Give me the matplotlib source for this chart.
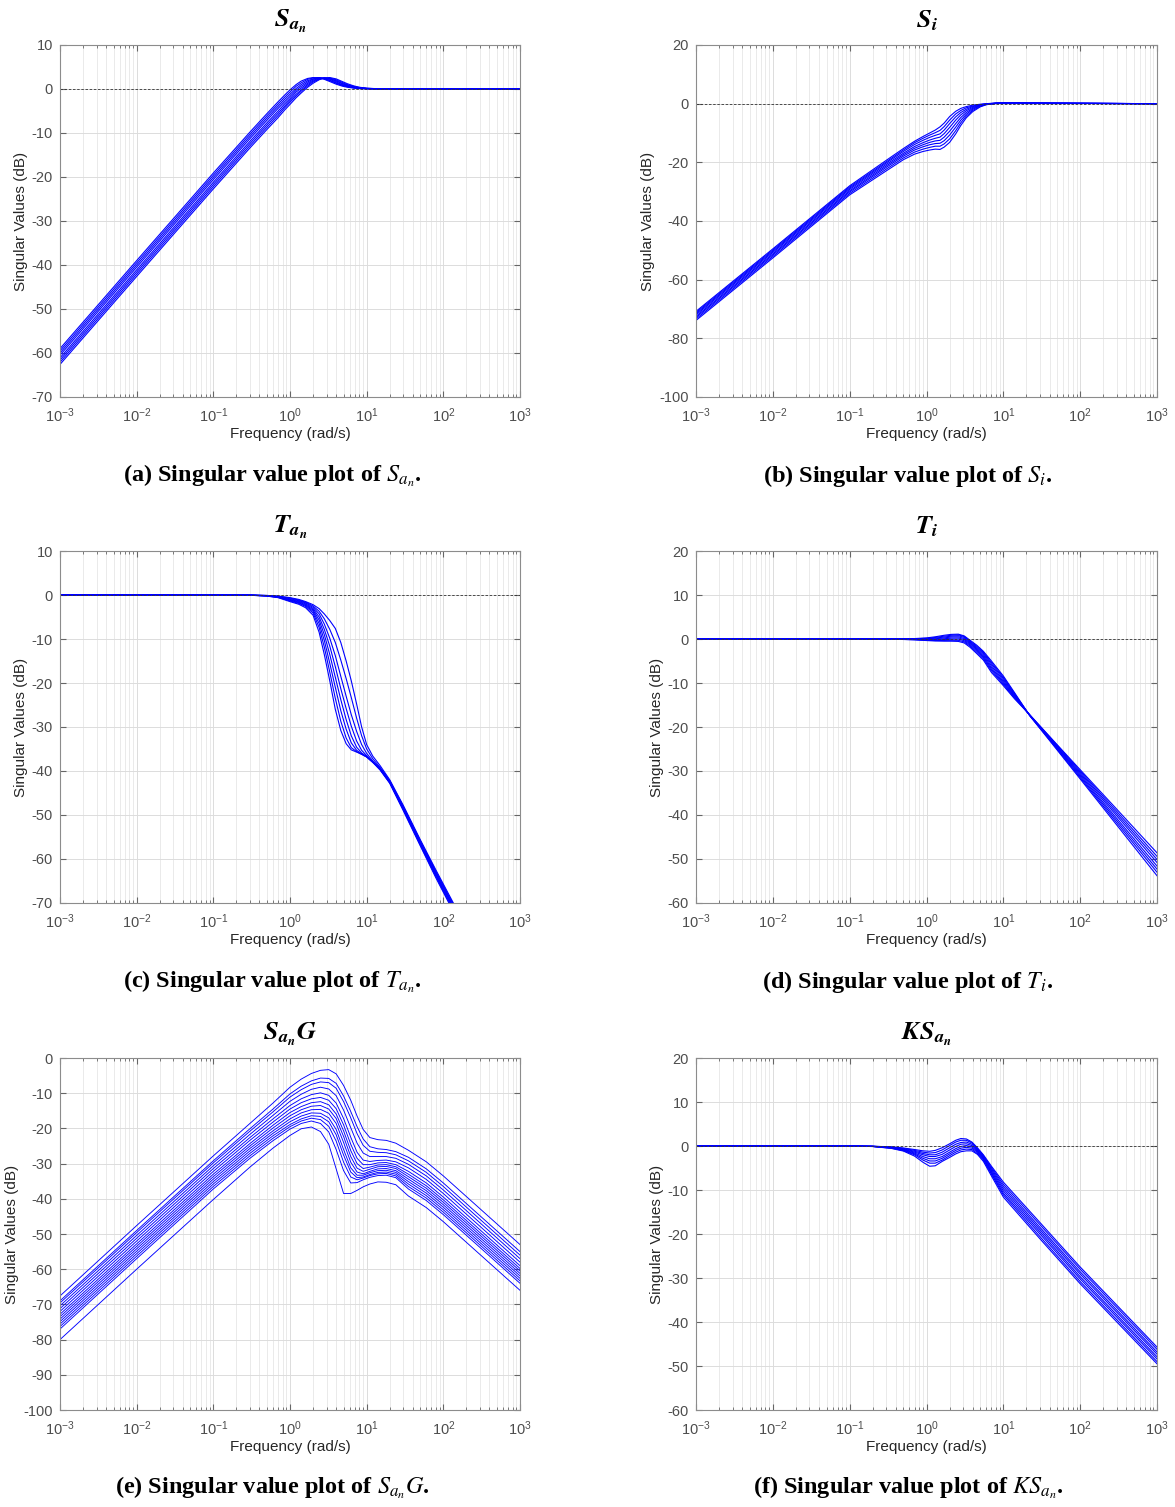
import numpy as np
import matplotlib.pyplot as plt
from matplotlib.ticker import FixedLocator, FuncFormatter, NullFormatter, MultipleLocator

plt.rcParams['font.family'] = ['Liberation Sans', 'DejaVu Sans']
plt.rcParams['mathtext.fontset'] = 'stix'
plt.rcParams['axes.unicode_minus'] = False

# Values. For the dense panels each row is one
# frequency and each column one sampled curve (transposed before plotting).

# (a) S_an
w_a = [1e-3, 1e-2, 1e-1, 0.3, 0.5, 0.7, 0.85, 1.0, 1.2, 1.4, 1.7, 2.0, 2.4, 2.8,
       3.3, 4.0, 4.8, 5.6, 6.8, 8.0, 10, 14, 1e3]
rows_a = [
    [-59.0, -59.5, -60.0, -60.5, -61.1, -61.6, -62.1, -62.6],
    [-39.0, -39.5, -40.0, -40.5, -41.1, -41.6, -42.1, -42.6],
    [-19.1, -19.6, -20.1, -20.6, -21.2, -21.7, -22.2, -22.7],
    [-9.8, -10.3, -10.8, -11.3, -11.9, -12.4, -12.9, -13.4],
    [-5.6, -6.1, -6.6, -7.1, -7.7, -8.2, -8.7, -9.2],
    [-2.9, -3.4, -3.9, -4.4, -5.0, -5.5, -6.0, -6.5],
    [-1.4, -1.9, -2.4, -2.9, -3.4, -3.9, -4.3, -4.8],
    [-0.2, -0.7, -1.2, -1.7, -2.2, -2.6, -3.0, -3.5],
    [1.0, 0.6, 0.1, -0.3, -0.7, -1.2, -1.6, -2.0],
    [1.8, 1.4, 1.0, 0.6, 0.2, -0.2, -0.5, -0.9],
    [2.4, 2.2, 1.9, 1.6, 1.3, 1.0, 0.7, 0.4],
    [2.6, 2.5, 2.3, 2.2, 2.0, 1.8, 1.6, 1.3],
    [2.5, 2.6, 2.6, 2.5, 2.4, 2.3, 2.2, 2.1],
    [2.2, 2.3, 2.4, 2.5, 2.5, 2.5, 2.5, 2.5],
    [1.7, 1.9, 2.0, 2.2, 2.3, 2.4, 2.5, 2.6],
    [1.1, 1.3, 1.4, 1.6, 1.8, 1.9, 2.1, 2.3],
    [0.65, 0.8, 0.9, 1.0, 1.2, 1.3, 1.5, 1.7],
    [0.4, 0.5, 0.6, 0.7, 0.8, 0.9, 1.0, 1.2],
    [0.2, 0.25, 0.3, 0.35, 0.45, 0.5, 0.6, 0.7],
    [0.1, 0.12, 0.15, 0.2, 0.25, 0.3, 0.35, 0.4],
    [0.05, 0.05, 0.07, 0.1, 0.1, 0.12, 0.15, 0.2],
    [0.0, 0.0, 0.0, 0.02, 0.03, 0.04, 0.05, 0.05],
    [0, 0, 0, 0, 0, 0, 0, 0],
]

# (b) S_i
w_b = [1e-3, 1e-2, 0.1, 0.3, 0.5, 0.7, 0.9, 1.1, 1.3, 1.5, 1.7, 2.0, 2.4, 2.8,
       3.3, 4.0, 5.0, 6.0, 8.0, 11, 20, 1e3]
rows_b = [
    [-70.8, -71.2, -71.6, -72.0, -72.5, -72.9, -73.4, -73.9],
    [-49.5, -49.9, -50.3, -50.7, -51.2, -51.6, -52.1, -52.6],
    [-28.0, -28.4, -28.8, -29.2, -29.7, -30.1, -30.6, -31.1],
    [-19.3, -19.8, -20.2, -20.7, -21.2, -21.7, -22.3, -22.9],
    [-15.3, -15.8, -16.3, -16.9, -17.4, -17.9, -18.5, -19.1],
    [-12.8, -13.3, -13.9, -14.6, -15.2, -15.8, -16.5, -17.2],
    [-11.2, -11.8, -12.5, -13.3, -14.0, -14.7, -15.5, -16.3],
    [-10.0, -10.7, -11.5, -12.4, -13.2, -14.0, -14.9, -15.8],
    [-9.0, -9.9, -10.8, -11.8, -12.7, -13.6, -14.5, -15.5],
    [-7.9, -9.1, -10.3, -11.4, -12.5, -13.5, -14.5, -15.6],
    [-6.6, -7.8, -9.0, -10.2, -11.4, -12.6, -13.7, -14.8],
    [-4.4, -5.6, -6.8, -8.1, -9.4, -10.7, -12.0, -13.2],
    [-2.6, -3.5, -4.5, -5.6, -6.8, -8.0, -9.2, -10.3],
    [-1.6, -2.3, -3.0, -3.8, -4.7, -5.6, -6.5, -7.4],
    [-1.0, -1.4, -1.9, -2.4, -3.0, -3.6, -4.2, -4.8],
    [-0.5, -0.8, -1.0, -1.3, -1.6, -1.9, -2.3, -2.7],
    [-0.2, -0.3, -0.4, -0.5, -0.6, -0.75, -0.9, -1.1],
    [0.0, -0.05, -0.1, -0.15, -0.2, -0.25, -0.3, -0.35],
    [0.2, 0.2, 0.15, 0.15, 0.1, 0.1, 0.1, 0.05],
    [0.3, 0.3, 0.3, 0.25, 0.25, 0.25, 0.2, 0.2],
    [0.2, 0.2, 0.2, 0.2, 0.15, 0.15, 0.15, 0.15],
    [0, 0, 0, 0, 0, 0, 0, 0],
]

# (c) T_an
w_c = [1e-3, 0.1, 0.3, 0.5, 0.7, 1.0, 1.3, 1.6, 2.0, 2.4, 2.8, 3.3, 3.9, 4.6, 5.4,
       6.3, 7.4, 8.6, 10, 12, 15, 20, 30, 50, 80, 150]
rows_c = [
    [0, 0, 0, 0, 0, 0, 0, 0],
    [0, 0, 0, 0, 0, 0, 0, 0],
    [-0.05, -0.05, -0.04, -0.04, -0.03, -0.03, -0.02, -0.02],
    [-0.25, -0.22, -0.2, -0.18, -0.15, -0.13, -0.11, -0.1],
    [-0.6, -0.55, -0.5, -0.45, -0.4, -0.35, -0.3, -0.25],
    [-1.5, -1.35, -1.2, -1.1, -1.0, -0.85, -0.7, -0.6],
    [-2.1, -1.9, -1.75, -1.6, -1.45, -1.3, -1.15, -1.0],
    [-2.9, -2.6, -2.4, -2.2, -2.0, -1.8, -1.65, -1.5],
    [-4.6, -4.1, -3.7, -3.4, -3.1, -2.8, -2.5, -2.2],
    [-8.5, -7.4, -6.5, -5.7, -5.0, -4.3, -3.7, -3.1],
    [-13.5, -11.8, -10.3, -9.0, -7.8, -6.6, -5.4, -4.3],
    [-19.5, -17.5, -15.5, -13.5, -11.6, -9.8, -7.8, -5.8],
    [-26.0, -23.5, -21.0, -18.7, -16.3, -13.8, -10.8, -7.6],
    [-30.8, -28.7, -26.3, -23.8, -21.3, -18.5, -14.8, -10.8],
    [-33.8, -32.5, -30.5, -28.3, -25.8, -23.0, -19.0, -15.0],
    [-35.2, -34.7, -33.6, -32.0, -29.8, -27.2, -23.3, -19.5],
    [-35.7, -35.6, -35.3, -34.6, -33.2, -31.0, -28.0, -24.8],
    [-36.2, -36.2, -36.1, -35.9, -35.3, -34.0, -32.0, -30.0],
    [-36.8, -36.8, -36.8, -36.7, -36.5, -36.0, -35.0, -34.0],
    [-38.0, -38.0, -38.0, -38.0, -37.9, -37.7, -37.2, -36.6],
    [-39.8, -39.7, -39.6, -39.6, -39.5, -39.4, -39.2, -38.8],
    [-42.8, -42.7, -42.6, -42.5, -42.4, -42.3, -42.2, -42.0],
    [-49.0, -48.8, -48.6, -48.5, -48.3, -48.2, -48.0, -47.8],
    [-57.0, -56.8, -56.6, -56.4, -56.2, -56.0, -55.8, -55.6],
    [-64.3, -64.0, -63.8, -63.5, -63.3, -63.0, -62.8, -62.5],
    [-73.5, -73.2, -72.9, -72.6, -72.4, -72.1, -71.8, -71.5],
]

# (d) T_i
w_d = [1e-3, 0.2, 0.4, 0.7, 1.0, 1.3, 1.7, 2.1, 2.6, 3.1, 3.7, 4.5, 5.5, 7.0, 10,
       14, 22, 50, 100, 300, 1e3]
rows_d = [
    [0, 0, 0, 0, 0, 0, 0, 0],
    [0, 0, 0, 0, 0, 0, 0, 0],
    [0.02, 0.01, 0.0, 0.0, -0.02, -0.03, -0.05, -0.05],
    [0.1, 0.05, 0.02, -0.02, -0.06, -0.1, -0.15, -0.2],
    [0.25, 0.15, 0.05, -0.05, -0.12, -0.2, -0.28, -0.35],
    [0.5, 0.35, 0.2, 0.05, -0.1, -0.22, -0.35, -0.45],
    [0.85, 0.65, 0.45, 0.25, 0.05, -0.15, -0.32, -0.5],
    [1.05, 0.85, 0.65, 0.45, 0.2, -0.05, -0.3, -0.5],
    [1.1, 0.95, 0.75, 0.5, 0.25, 0.0, -0.3, -0.55],
    [0.7, 0.55, 0.35, 0.1, -0.15, -0.4, -0.65, -0.9],
    [-0.3, -0.5, -0.7, -0.9, -1.1, -1.35, -1.6, -1.9],
    [-1.4, -1.65, -1.9, -2.15, -2.4, -2.7, -3.0, -3.3],
    [-2.8, -3.05, -3.3, -3.6, -3.9, -4.2, -4.5, -4.8],
    [-5.0, -5.35, -5.7, -6.1, -6.5, -6.85, -7.2, -7.6],
    [-8.4, -8.7, -9.0, -9.35, -9.7, -10.0, -10.3, -10.6],
    [-12.2, -12.4, -12.6, -12.8, -13.0, -13.2, -13.4, -13.6],
    [-17.4, -17.4, -17.3, -17.3, -17.3, -17.3, -17.2, -17.2],
    [-25.2, -25.0, -24.8, -24.6, -24.5, -24.3, -24.1, -24.0],
    [-31.8, -31.5, -31.2, -30.9, -30.6, -30.3, -30.0, -29.7],
    [-42.3, -41.8, -41.3, -40.8, -40.2, -39.7, -39.2, -38.7],
    [-53.8, -53.0, -52.3, -51.6, -50.8, -50.1, -49.4, -48.6],
]

# (e) S_an G  -- one list per curve, curves are well separated here
w_e = [1e-3, 1e-2, 0.1, 0.3, 0.6, 1.0, 1.4, 1.9, 2.5, 3.2, 4.0, 5.0, 6.2, 7.5, 9.0,
       11, 14, 18, 24, 35, 60, 100, 1e3]
sv_e = [
    [-67.6, -47.6, -27.8, -18.6, -12.8, -8.3, -6.0, -4.4, -3.5, -3.3, -4.5, -7.8, -12.0, -16.5, -20.3, -22.6, -23.2, -23.4, -24.2, -26.2, -29.5, -33.5, -53.0],
    [-69.0, -49.0, -29.2, -20.1, -14.5, -10.2, -8.0, -6.5, -5.7, -5.8, -7.2, -10.8, -15.2, -19.5, -23.0, -25.2, -25.8, -26.0, -26.6, -28.2, -31.5, -35.5, -55.0],
    [-69.6, -49.6, -29.8, -20.8, -15.3, -11.1, -9.0, -7.5, -6.8, -7.0, -8.6, -12.4, -17.0, -21.5, -24.8, -26.5, -26.8, -26.9, -27.5, -29.2, -32.5, -36.5, -56.0],
    [-70.4, -50.4, -30.6, -21.7, -16.3, -12.3, -10.3, -8.9, -8.3, -8.8, -10.7, -14.8, -19.8, -24.2, -27.0, -28.0, -28.0, -28.0, -28.5, -30.2, -33.5, -37.5, -57.0],
    [-71.2, -51.2, -31.4, -22.6, -17.3, -13.5, -11.6, -10.4, -9.9, -10.6, -12.8, -17.2, -22.5, -26.8, -29.0, -29.4, -29.1, -29.0, -29.5, -31.2, -34.5, -38.5, -58.0],
    [-72.0, -52.0, -32.2, -23.4, -18.2, -14.5, -12.7, -11.6, -11.2, -12.0, -14.4, -19.0, -24.5, -28.5, -30.3, -30.3, -29.8, -29.7, -30.3, -32.2, -35.5, -39.5, -59.0],
    [-72.8, -52.8, -33.0, -24.3, -19.1, -15.5, -13.8, -12.7, -12.4, -13.3, -15.9, -20.7, -26.3, -30.0, -31.4, -31.0, -30.4, -30.3, -30.9, -33.0, -36.3, -40.3, -59.8],
    [-73.5, -53.5, -33.7, -25.0, -19.9, -16.4, -14.7, -13.7, -13.5, -14.5, -17.2, -22.3, -28.0, -31.3, -32.2, -31.6, -30.9, -30.8, -31.4, -33.7, -37.0, -41.0, -60.5],
    [-74.2, -54.2, -34.4, -25.7, -20.7, -17.3, -15.6, -14.7, -14.6, -15.7, -18.6, -24.0, -29.6, -32.4, -32.9, -32.2, -31.5, -31.4, -32.0, -34.4, -37.7, -41.7, -61.2],
    [-74.9, -54.9, -35.1, -26.4, -21.4, -18.1, -16.5, -15.6, -15.7, -17.0, -20.3, -26.0, -31.2, -33.3, -33.3, -32.6, -32.0, -31.9, -32.5, -35.1, -38.4, -42.4, -61.9],
    [-75.6, -55.6, -35.8, -27.1, -22.1, -18.9, -17.3, -16.4, -16.6, -18.1, -21.8, -27.6, -32.4, -34.0, -33.8, -33.1, -32.5, -32.4, -33.0, -35.8, -39.1, -43.1, -62.6],
    [-76.3, -56.3, -36.5, -27.8, -22.8, -19.5, -17.9, -17.1, -17.5, -19.4, -23.6, -29.6, -33.8, -34.6, -34.1, -33.4, -32.9, -32.8, -33.5, -36.5, -39.8, -43.8, -63.3],
    [-77.0, -57.0, -37.2, -28.5, -23.5, -20.2, -18.6, -17.9, -18.6, -21.0, -26.0, -32.0, -35.5, -35.4, -34.6, -33.9, -33.4, -33.3, -34.0, -37.2, -40.5, -44.5, -64.0],
    [-80.0, -60.0, -40.2, -31.0, -25.6, -22.0, -20.1, -19.6, -20.9, -24.5, -31.5, -38.5, -38.5, -37.6, -36.6, -35.8, -35.2, -35.3, -36.0, -39.2, -42.5, -46.5, -66.0],
]

# (f) K S_an
w_f = [1e-3, 0.1, 0.2, 0.35, 0.5, 0.7, 0.9, 1.1, 1.3, 1.6, 2.0, 2.4, 2.8, 3.3, 3.9,
       4.6, 5.5, 7.0, 10, 30, 100, 1e3]
rows_f = [
    [0, 0, 0, 0, 0, 0, 0, 0],
    [0, 0, 0, 0, 0, 0, 0, 0],
    [-0.05, -0.06, -0.07, -0.08, -0.09, -0.1, -0.11, -0.12],
    [-0.2, -0.25, -0.3, -0.35, -0.4, -0.45, -0.5, -0.55],
    [-0.45, -0.55, -0.65, -0.75, -0.85, -0.95, -1.05, -1.15],
    [-0.8, -1.0, -1.2, -1.4, -1.6, -1.8, -2.0, -2.3],
    [-1.1, -1.4, -1.7, -2.0, -2.4, -2.8, -3.2, -3.7],
    [-1.2, -1.6, -2.0, -2.4, -2.9, -3.4, -3.9, -4.6],
    [-1.0, -1.5, -2.0, -2.4, -2.9, -3.4, -3.9, -4.5],
    [-0.4, -0.9, -1.4, -1.9, -2.4, -2.8, -3.2, -3.5],
    [0.5, 0.1, -0.4, -0.9, -1.4, -1.8, -2.2, -2.6],
    [1.3, 0.9, 0.4, -0.1, -0.6, -1.0, -1.4, -1.8],
    [1.7, 1.3, 0.8, 0.4, -0.1, -0.5, -0.9, -1.3],
    [1.6, 1.3, 0.9, 0.5, 0.1, -0.3, -0.7, -1.1],
    [0.9, 0.7, 0.4, 0.1, -0.2, -0.5, -0.8, -1.1],
    [-0.4, -0.6, -0.8, -1.0, -1.2, -1.4, -1.7, -1.9],
    [-2.0, -2.2, -2.4, -2.6, -2.8, -3.0, -3.2, -3.5],
    [-4.6, -4.9, -5.2, -5.5, -5.8, -6.1, -6.4, -6.8],
    [-8.2, -8.7, -9.2, -9.7, -10.2, -10.7, -11.1, -11.6],
    [-17.4, -17.9, -18.5, -19.0, -19.5, -20.0, -20.6, -21.1],
    [-27.5, -28.0, -28.6, -29.1, -29.7, -30.2, -30.8, -31.3],
    [-45.7, -46.2, -46.8, -47.3, -47.9, -48.4, -49.0, -49.5],
]

titles = [r'$\mathbfit{S_{a_n}}$', r'$\mathbfit{S_i}$', r'$\mathbfit{T_{a_n}}$',
          r'$\mathbfit{T_i}$', r'$\mathbfit{S_{a_n}G}$', r'$\mathbfit{KS_{a_n}}$']
captions = [r'(a) Singular value plot of $S_{a_n}$.', r'(b) Singular value plot of $S_i$.',
            r'(c) Singular value plot of $T_{a_n}$.', r'(d) Singular value plot of $T_i$.',
            r'(e) Singular value plot of $S_{a_n}G$.', r'(f) Singular value plot of $KS_{a_n}$.']
ylims = [(-70, 10), (-100, 20), (-70, 10), (-60, 20), (-100, 0), (-60, 20)]
ysteps = [10, 20, 10, 10, 10, 10]
xticks = [1e-3, 1e-2, 1e-1, 1e0, 1e1, 1e2, 1e3]

data = [
    (w_a, np.array(rows_a).T, 0.8),
    (w_b, np.array(rows_b).T, 0.8),
    (w_c, np.array(rows_c).T, 0.8),
    (w_d, np.array(rows_d).T, 0.8),
    (w_e, np.array(sv_e), 0.65),
    (w_f, np.array(rows_f).T, 0.8),
]

W, H = 1175, 1507
fig = plt.figure(figsize=(W / 100, H / 100), dpi=100)

lefts = [60, 696]
widths = [460, 461]
bottoms = [397, 903, 1410]
cap_x = [272, 908]
cap_y = [476, 982, 1488]

minor = [m * 10.0 ** e for e in range(-3, 3) for m in range(2, 10)]

for i, (w, curves, lw) in enumerate(data):
    r, c = divmod(i, 2)
    ax = fig.add_axes([lefts[c] / W, 1 - bottoms[r] / H, widths[c] / W, 352 / H])
    for sv in curves:
        ax.semilogx(w, sv, color='#0000ff', lw=lw)
    ax.axhline(0, color='#333333', lw=0.6, ls=(0, (3, 2)))
    ax.set_xlim(1e-3, 1e3)
    ax.set_ylim(*ylims[i])
    ax.yaxis.set_major_locator(MultipleLocator(ysteps[i]))
    ax.xaxis.set_major_locator(FixedLocator(xticks))
    ax.xaxis.set_minor_locator(FixedLocator(minor))
    ax.xaxis.set_minor_formatter(NullFormatter())
    ax.xaxis.set_major_formatter(FuncFormatter(
        lambda v, p: r'$\mathregular{10^{%d}}$' % int(round(np.log10(v)))))
    ax.grid(True, which='major', color='#dcdcdc', lw=0.7)
    ax.grid(True, which='minor', axis='x', color='#e6e6e6', lw=0.6)
    ax.set_axisbelow(True)
    ax.tick_params(which='both', direction='in', top=True, right=True,
                   color='#666666', labelcolor='#4d4d4d', labelsize=10.5)
    ax.tick_params(which='major', length=4)
    ax.tick_params(which='minor', length=2)
    ax.tick_params(axis='x', which='major', pad=7)
    ax.tick_params(axis='y', which='major', pad=5)
    for s in ax.spines.values():
        s.set_color('#8c8c8c')
        s.set_linewidth(0.8)
    ax.set_xlabel('Frequency (rad/s)', fontsize=11, color='#262626', labelpad=1)
    ax.set_ylabel('Singular Values (dB)', fontsize=11, color='#262626', labelpad=3)
    ax.set_title(titles[i], fontsize=19, pad=13)
    fig.text(cap_x[c] / W, 1 - cap_y[r] / H, captions[i], ha='center', va='center',
             fontsize=17.5, fontweight='bold', family='Liberation Serif')

fig.savefig('out.png', dpi=100)
